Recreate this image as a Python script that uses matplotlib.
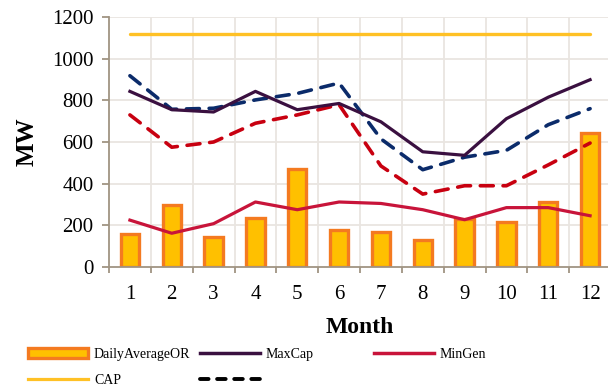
import matplotlib
matplotlib.use("Agg")
import matplotlib.pyplot as plt
from matplotlib.lines import Line2D
from matplotlib.patches import Patch
import numpy as np

plt.rcParams['font.family'] = ['Liberation Serif', 'DejaVu Serif']

months = [1, 2, 3, 4, 5, 6, 7, 8, 9, 10, 11, 12]
daily_average_or = [160, 300, 142, 235, 472, 178, 168, 130, 230, 215, 310, 645]
max_cap = [843, 755, 744, 843, 755, 785, 697, 553, 536, 712, 815, 899]
min_gen = [225, 162, 208, 312, 275, 312, 305, 275, 227, 285, 285, 246]
cap = [1120] * 12
max_cap_alt = [918, 757, 762, 802, 833, 883, 615, 467, 527, 560, 683, 760]
min_gen_alt = [730, 575, 600, 690, 730, 779, 485, 350, 390, 390, 490, 595]
y_ticks = [0, 200, 400, 600, 800, 1000, 1200]

fig = plt.figure(figsize=(6.08, 3.86), dpi=100)
ax = fig.add_axes([109 / 608, 1 - 267 / 386, 502 / 608, 250 / 386])

grid_c = '#E9E5E1'
spine_c = '#A09482'

# gridlines
for yv in y_ticks[1:]:
    ax.axhline(yv, color=grid_c, lw=1.3, zorder=0)
for xv in np.arange(1.5, 12.5, 1.0):
    ax.axvline(xv, color=grid_c, lw=1.3, zorder=0)

bar_fill = '#FFC000'
bar_edge = '#F47A20'
ax.bar(months, daily_average_or, width=0.44, color=bar_fill, edgecolor=bar_edge,
       linewidth=2.4, zorder=2)

c_cap = '#FFC125'
c_max = '#3A1040'
c_min = '#C8143A'
c_blue = '#0B2B6A'
c_red = '#C80010'

dash = (0, (3.6, 2.7))
ax.plot(months, cap, color=c_cap, lw=2.4, zorder=3, solid_capstyle='round')
ax.plot(months, max_cap_alt, color=c_blue, lw=2.6, ls=dash, zorder=3,
        dash_capstyle='round')
ax.plot(months, min_gen_alt, color=c_red, lw=2.6, ls=dash, zorder=3,
        dash_capstyle='round')
ax.plot(months, max_cap, color=c_max, lw=2.3, zorder=4)
ax.plot(months, min_gen, color=c_min, lw=2.3, zorder=4)

ax.set_xlim(0.5, 12.5)
ax.set_ylim(0, 1200)
ax.set_yticks(y_ticks)
ax.set_xticks(months)
ax.set_xticks(np.arange(0.5, 13.0, 1.0), minor=True)

for s in ['top', 'right']:
    ax.spines[s].set_visible(False)
for s in ['left', 'bottom']:
    ax.spines[s].set_color(spine_c)
    ax.spines[s].set_linewidth(1.3)

ax.tick_params(axis='x', which='major', length=0, pad=13, labelsize=15)
ax.tick_params(axis='x', which='minor', length=4, width=1.3, color=spine_c,
               direction='out')
ax.tick_params(axis='y', which='major', length=5, width=1.3, color=spine_c,
               direction='out', pad=6, labelsize=15)

ax.set_ylabel('MW', fontsize=18, fontweight='bold', labelpad=10)
ax.set_xlabel('Month', fontsize=17, fontweight='bold', labelpad=9)

leg_kw = dict(frameon=False, fontsize=10, handlelength=4.3, handletextpad=0.45,
              labelspacing=0.95, borderpad=0, borderaxespad=0, loc='upper left')

col1 = [Patch(facecolor=bar_fill, edgecolor=bar_edge, linewidth=2.4),
        Line2D([], [], color=c_cap, lw=2.3)]
col2 = [Line2D([], [], color=c_max, lw=2.5),
        Line2D([], [], color='black', lw=2.8, ls=(0, (2.2, 2.2)),
               dash_capstyle='round')]
col3 = [Line2D([], [], color=c_min, lw=2.5)]

anchor_y = 1 - 348 / 386
fig.legend(col1, ['DailyAverageOR', 'CAP'], bbox_to_anchor=(28 / 608, anchor_y),
           **leg_kw)
fig.legend(col2, ['MaxCap', ' '], bbox_to_anchor=(200 / 608, anchor_y),
           **leg_kw)
fig.legend(col3, ['MinGen'], bbox_to_anchor=(374 / 608, anchor_y),
           **leg_kw)

fig.savefig('out.png', dpi=100)
